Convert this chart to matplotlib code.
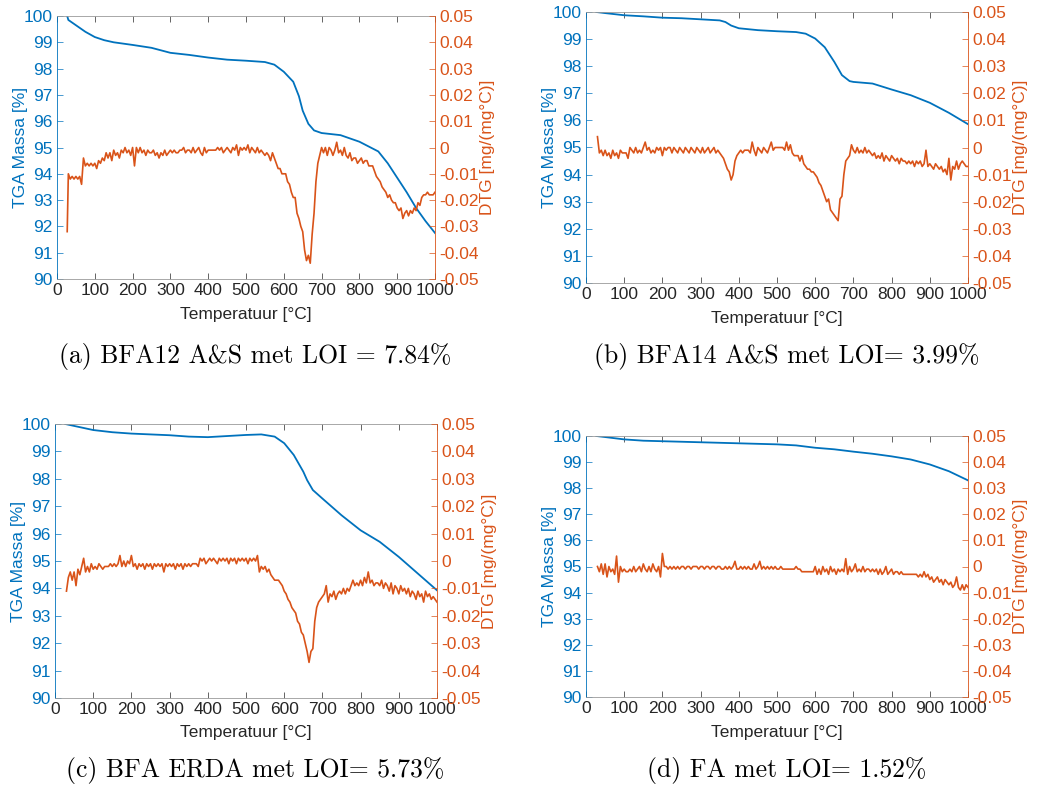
import matplotlib
matplotlib.use("Agg")
import matplotlib.pyplot as plt
import numpy as np

plt.rcParams["font.family"] = ["Liberation Sans", "DejaVu Sans"]

BLUE = "#0072BD"
ORANGE = "#D95319"
GREY = "#262626"

# temperatuur-raster van de DTG-metingen (elke 5 graden)
t_dtg = list(range(30, 1001, 5))

# --- (a) BFA12 A&S ---
t_tga_a = [27, 30, 50, 75, 100, 125, 150, 200, 250, 300, 350, 400, 450, 500, 550, 575,
           600, 625, 640, 650, 665, 680, 700, 750, 800, 850, 875, 900, 925, 950, 975, 1000]
tga_a = [100.0, 99.85, 99.65, 99.4, 99.2, 99.08, 99.0, 98.9, 98.79, 98.6, 98.52, 98.42,
         98.34, 98.3, 98.25, 98.15, 97.88, 97.5, 96.95, 96.4, 95.9, 95.65, 95.55, 95.47,
         95.22, 94.85, 94.4, 93.85, 93.3, 92.7, 92.2, 91.75]
t_dtg_a = [27] + t_dtg
dtg_a = [-32,
         -10, -12, -11, -12, -11, -12, -11, -14, -4, -7, -6, -7, -6, -7, -6, -8, -5, -6, -4, -5,
         -2, -4, -2, -5, -1, -3, -2, -4, -1, -2, 0, -2, -1, -3, 0, -7, 0, -2, 0, -2,
         -1, -3, -1, -2, -2, -1, -3, -2, -4, -2, -3, -1, -3, -2, -1, -2, -1, -2, -2, -1,
         -1, 0, -2, -1, -1, -2, 0, -2, -1, 0, -2, -3, 0, -2, -1, -1, -1, -1, -1, 0,
         -1, 0, -2, -1, 0, -1, -2, 0, -1, 1, -3, 0, -1, 0, -1, 1, -2, 0, -1, -2,
         0, -2, -1, -2, -3, -2, -3, -5, -2, -4, -6, -8, -8, -10, -10, -10, -13, -14, -17, -19,
         -19, -25, -27, -30, -32, -39, -43, -41, -44, -33, -25, -13, -6, -3, 0, -2, 0, -3, 0, -1,
         -3, -1, 2, -2, -1, -3, 0, -3, -4, -2, -5, -4, -4, -6, -5, -4, -6, -5, -5, -7,
         -7, -7, -9, -11, -12, -13, -15, -16, -17, -19, -18, -20, -21, -21, -23, -24, -23, -27, -25, -24,
         -26, -24, -25, -23, -24, -21, -22, -19, -18, -18, -17, -18, -18, -18, -17]

# --- (b) BFA14 A&S ---
t_tga_b = [27, 50, 100, 150, 200, 250, 300, 350, 365, 380, 400, 450, 500, 550, 575, 600,
           625, 650, 670, 690, 700, 750, 800, 850, 900, 950, 1000]
tga_b = [100.0, 99.96, 99.88, 99.84, 99.79, 99.77, 99.73, 99.69, 99.63, 99.5, 99.4, 99.33,
         99.29, 99.26, 99.2, 99.02, 98.7, 98.16, 97.67, 97.45, 97.42, 97.36, 97.14, 96.93,
         96.65, 96.28, 95.86]
dtg_b = [4, -2, -1, -3, -1, -3, -2, -4, -1, -3, -2, -4, -1, -2, -2, -2, -4, 0, -1, -2,
         0, -2, -1, -2, 0, 2, -1, 0, -2, -1, -2, 0, -1, 0, -3, 0, -1, 0, 0, -2,
         0, -1, -2, 0, -1, -2, 0, -1, -2, 0, -1, -2, 0, -1, -2, 0, -2, -1, 0, -2,
         -1, 0, -2, -1, -2, -3, -4, -6, -8, -9, -12, -10, -5, -3, -2, -1, -2, -1, -1, -1,
         -2, 2, -1, -3, 0, -1, -2, 0, -1, -2, 0, 2, -1, 0, 0, 0, 0, 0, -1, 2,
         -1, 1, -2, -3, -3, -3, -5, -3, -6, -7, -8, -8, -9, -9, -10, -11, -13, -14, -16, -18,
         -20, -19, -23, -24, -25, -26, -27, -19, -18, -10, -5, -4, -3, 1, -1, -2, 0, -2, -1, -2,
         0, -2, -1, -2, -3, -2, -4, -3, -4, -2, -5, -3, -4, -5, -3, -4, -5, -4, -6, -4,
         -5, -5, -6, -5, -6, -5, -7, -5, -6, -5, -7, -6, -1, -7, -6, -7, -8, -6, -7, -8,
         -7, -9, -8, -10, -4, -12, -7, -8, -5, -8, -6, -5, -6, -7, -7]

# --- (c) BFA ERDA ---
t_tga_c = [27, 50, 100, 150, 200, 250, 300, 350, 400, 450, 500, 540, 575, 600, 625, 650,
           660, 675, 700, 750, 800, 850, 900, 950, 1000]
tga_c = [100.0, 99.93, 99.78, 99.7, 99.65, 99.62, 99.59, 99.54, 99.52, 99.56, 99.6, 99.62,
         99.54, 99.3, 98.87, 98.26, 97.95, 97.59, 97.28, 96.67, 96.12, 95.7, 95.15, 94.54, 93.93]
dtg_c = [-11, -6, -4, -7, -4, -9, -3, -5, -2, 1, -4, -2, -4, -1, -3, -2, -3, -1, -2, -3,
         -2, -2, -2, -1, -2, -1, -2, -1, 2, -2, 0, -2, 0, -1, 2, -2, -1, -3, -1, -2,
         -1, -3, -1, -2, -1, -3, -1, -2, -1, -2, -1, -4, -1, -2, -1, -2, -1, -3, -1, -2,
         -1, -3, -1, -2, -1, -2, -1, -1, -1, -2, 1, 0, 1, -1, 0, 1, 0, 1, 0, -1,
         1, 0, 1, 0, 1, -1, 1, 0, 1, -1, 1, 0, 1, 0, 1, -1, 1, 0, 1, 0,
         2, -4, -2, -3, -2, -4, -3, -5, -6, -7, -7, -7, -8, -9, -11, -12, -14, -15, -17, -18,
         -19, -22, -23, -26, -27, -30, -33, -37, -33, -32, -22, -17, -15, -14, -13, -12, -9, -15, -12, -13,
         -11, -14, -12, -11, -12, -10, -12, -10, -11, -9, -7, -9, -8, -9, -7, -9, -6, -8, -4, -8,
         -7, -9, -8, -8, -9, -7, -10, -8, -9, -11, -8, -12, -9, -10, -12, -9, -11, -10, -12, -10,
         -13, -11, -12, -14, -11, -13, -12, -15, -11, -13, -12, -14, -13, -14, -15]

# --- (d) FA ---
t_tga_d = [27, 50, 100, 150, 200, 300, 400, 500, 550, 600, 650, 700, 750, 800, 850, 900,
           950, 1000]
tga_d = [100.0, 99.96, 99.87, 99.82, 99.8, 99.76, 99.72, 99.68, 99.64, 99.55, 99.49, 99.4,
         99.32, 99.22, 99.1, 98.91, 98.65, 98.3]
dtg_d = [0, -2, 1, -3, 1, -4, 0, -2, -1, -3, 4, -6, 0, -2, -1, -2, -2, -1, -2, 0,
         -2, -1, 0, -2, 1, -1, -2, 0, -2, 1, -1, -2, 0, -4, 5, 0, 0, -1, 0, -1,
         0, -1, 0, -1, 0, 0, -1, 0, 0, -1, 0, 0, 0, -1, 0, 0, -1, 0, 0, -1,
         0, 0, -1, 0, 0, -1, -1, 0, -1, 0, -1, 0, 2, -1, -1, 0, -1, 0, -1, 0,
         -1, -1, 1, -1, 0, 2, -1, 0, -1, 0, -1, 0, -1, 0, -1, -1, 0, -1, -1, -1,
         -1, -1, -1, -1, 0, -1, -1, -2, -2, -2, -2, -2, -2, -2, 0, -3, -1, -3, 0, -2,
         -1, -3, 0, -2, -1, -3, -1, -2, -1, -2, 3, -3, 0, -2, -1, 1, -2, -1, -2, 0,
         -2, -1, -1, -2, -1, -2, -1, -3, -1, -3, -2, 0, -3, -2, -1, -3, -2, -2, -3, -2,
         -3, -3, -3, -3, -3, -3, -3, -3, -4, -3, -4, -2, -4, -3, -5, -4, -6, -5, -4, -6,
         -5, -7, -5, -6, -7, -6, -8, -7, -4, -8, -9, -7, -9, -7, -8]

captions = ["(a) BFA12 A&S met LOI = 7.84%", "(b) BFA14 A&S met LOI= 3.99%",
            "(c) BFA ERDA met LOI= 5.73%", "(d) FA met LOI= 1.52%"]

x_ticks = list(range(0, 1001, 100))
left_ticks = list(range(90, 101))
right_ticks = [-0.05, -0.04, -0.03, -0.02, -0.01, 0, 0.01, 0.02, 0.03, 0.04, 0.05]
right_labels = ["-0.05", "-0.04", "-0.03", "-0.02", "-0.01", "0",
                "0.01", "0.02", "0.03", "0.04", "0.05"]

W, H = 1042, 787
# axes boxes in pixels: left, top, right, bottom
boxes = [(57, 16, 435, 279), (586, 12, 968, 283), (55, 424, 437, 698), (586, 436, 968, 697)]
caption_pos = [(255, 356), (787, 357), (255, 771), (787, 770)]

panels = [
    (t_tga_a, tga_a, t_dtg_a, dtg_a),
    (t_tga_b, tga_b, t_dtg, dtg_b),
    (t_tga_c, tga_c, t_dtg, dtg_c),
    (t_tga_d, tga_d, t_dtg, dtg_d),
]

FS = 12.5

fig = plt.figure(figsize=(W / 100, H / 100), dpi=100)

for (tt, tga, td, dtg), (l, t, r, b), cap, (cx, cy) in zip(panels, boxes, captions, caption_pos):
    ax = fig.add_axes([l / W, 1 - b / H, (r - l) / W, (b - t) / H])
    ax2 = ax.twinx()

    ax.plot(tt, tga, color=BLUE, lw=1.3)
    ax2.plot(td, np.array(dtg) / 1000, color=ORANGE, lw=1.2)

    ax.set_xlim(0, 1000)
    ax.set_ylim(90, 100)
    ax2.set_ylim(-0.05, 0.05)
    ax.set_xticks(x_ticks)
    ax.set_yticks(left_ticks)
    ax2.set_yticks(right_ticks)
    ax2.set_yticklabels(right_labels)

    ax.tick_params(axis="x", direction="in", top=True, length=4, width=0.5,
                   color=GREY, labelcolor=GREY, labelsize=FS, pad=3)
    ax.tick_params(axis="y", direction="in", length=4, width=0.5,
                   color=BLUE, labelcolor=BLUE, labelsize=FS, pad=3)
    ax2.tick_params(axis="y", direction="in", length=4, width=0.5,
                    color=ORANGE, labelcolor=ORANGE, labelsize=FS, pad=3)

    for s in ("top", "bottom"):
        ax.spines[s].set_color("#9a9a9a")
        ax.spines[s].set_linewidth(0.6)
        ax2.spines[s].set_visible(False)
    ax.spines["left"].set_color(BLUE)
    ax.spines["left"].set_linewidth(0.6)
    ax.spines["right"].set_visible(False)
    ax2.spines["left"].set_visible(False)
    ax2.spines["right"].set_color(ORANGE)
    ax2.spines["right"].set_linewidth(0.6)

    ax.set_xlabel("Temperatuur [°C]", color=GREY, fontsize=FS, labelpad=6)
    ax.set_ylabel("TGA Massa [%]", color=BLUE, fontsize=FS, labelpad=-3)
    ax2.set_ylabel("DTG [mg/(mg°C)]", color=ORANGE, fontsize=FS, labelpad=1)

    fig.text(cx / W, 1 - cy / H, cap, ha="center", va="center", fontsize=18.5,
             family=["cmr10", "DejaVu Serif"])

fig.savefig("out.png", dpi=100)
